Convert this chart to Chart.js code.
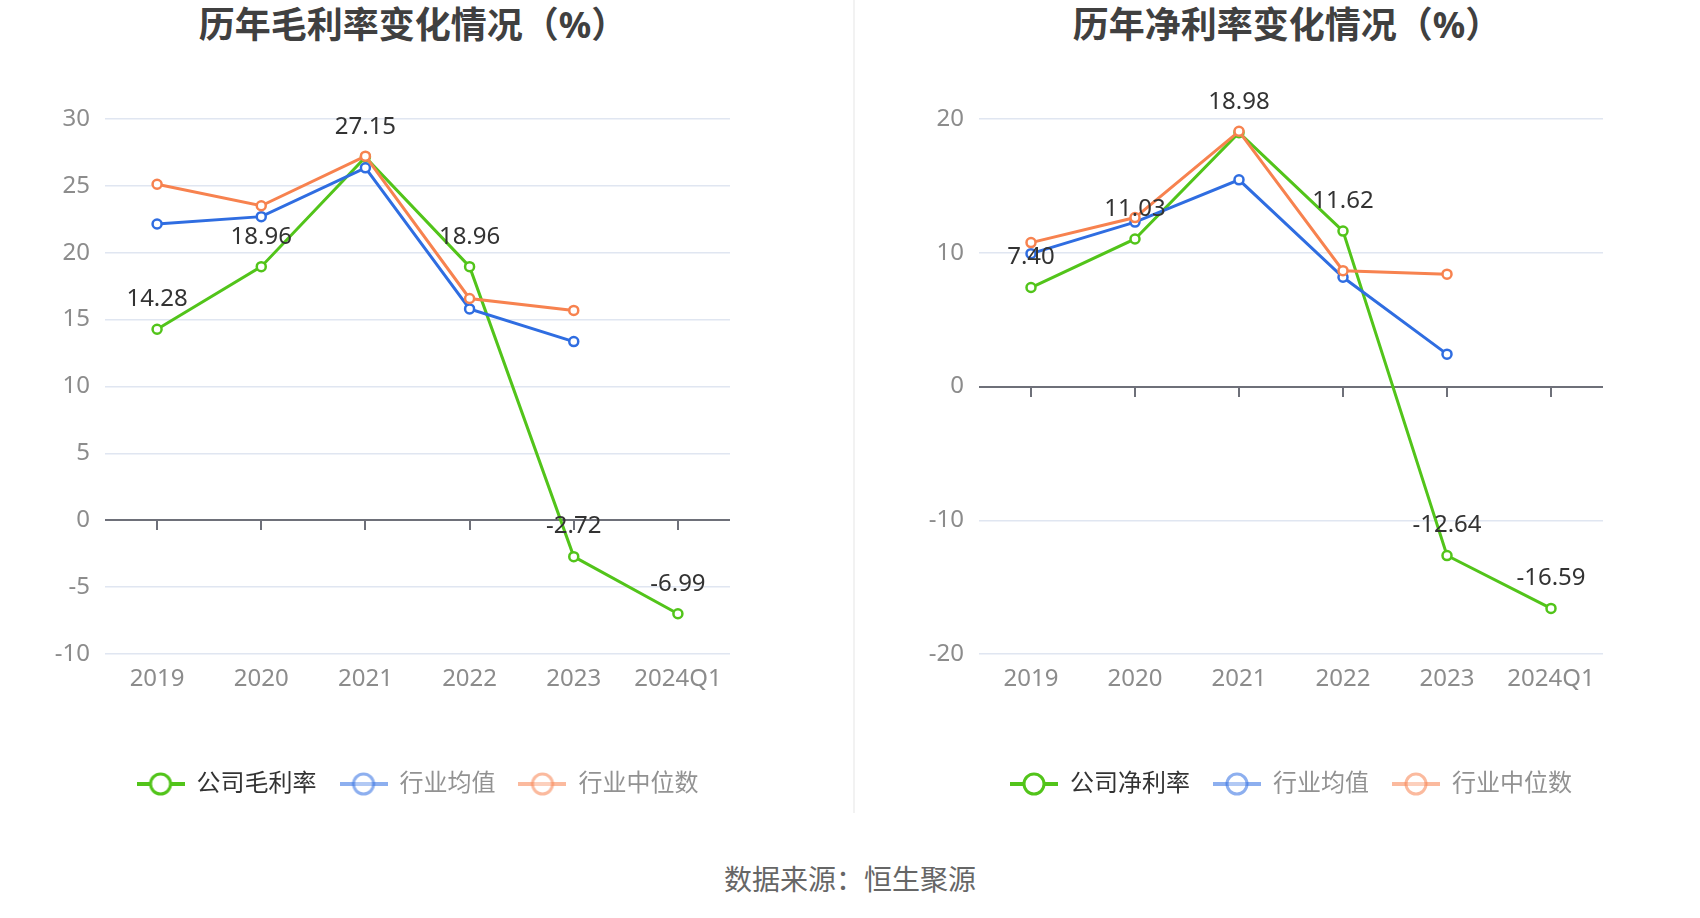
<!DOCTYPE html>
<html>
<head>
<meta charset="utf-8">
<script src="https://cdn.jsdelivr.net/npm/chart.js@4.4.1/dist/chart.umd.min.js"></script>
<style>
  body { margin: 0; background: #fff; width: 1700px; height: 918px; position: relative; overflow: hidden;
         font-family: 'Noto Sans', 'Noto Sans CJK SC', sans-serif; }
  .title { position: absolute; top: 0; width: 600px; text-align: center; font-size: 36px; font-weight: bold;
           color: #404040; line-height: 50px; }
  .panel { position: absolute; top: 0; }
  .sep { position: absolute; left: 853px; top: 0; width: 2px; height: 813px; background: #f2f2f2; }
  .source { position: absolute; left: 550px; width: 600px; top: 859px; text-align: center; font-size: 28px;
            color: #666; line-height: 40px; }
</style>
</head>
<body>
<div class="title" style="left:113px">历年毛利率变化情况（%）</div>
<div class="title" style="left:987px">历年净利率变化情况（%）</div>
<div class="sep"></div>
<div class="panel" style="left:0"><canvas id="grossChart" width="750" height="806"></canvas></div>
<div class="panel" style="left:874px"><canvas id="netChart" width="749" height="806"></canvas></div>
<div class="source">数据来源：恒生聚源</div>
<script>
// 数据
const years = ['2019', '2020', '2021', '2022', '2023', '2024Q1'];

const grossCompany = [14.28, 18.96, 27.15, 18.96, -2.72, -6.99];
const grossIndustryAvg = [22.15, 22.70, 26.35, 15.80, 13.36, null];
const grossIndustryMedian = [25.12, 23.51, 27.22, 16.58, 15.69, null];
const grossTicks = [-10, -5, 0, 5, 10, 15, 20, 25, 30];

const netCompany = [7.40, 11.03, 18.98, 11.62, -12.64, -16.59];
const netIndustryAvg = [9.93, 12.29, 15.45, 8.17, 2.42, null];
const netIndustryMedian = [10.76, 12.63, 19.08, 8.66, 8.40, null];
const netTicks = [-20, -10, 0, 10, 20];

const GREEN = '#52C41A';
const BLUE = '#2F6DE1';
const ORANGE = '#F7824F';

Chart.defaults.font.family = "'Noto Sans', 'Noto Sans CJK SC', sans-serif";

// icône de légende : trait + cercle
function legendIcon(color, faded) {
    const c = document.createElement('canvas');
    c.width = 48;
    c.height = 26;
    const g = c.getContext('2d');
    g.globalAlpha = faded ? 0.55 : 1;
    g.strokeStyle = color;
    g.lineWidth = 4;
    g.beginPath();
    g.moveTo(0, 13);
    g.lineTo(48, 13);
    g.stroke();
    g.beginPath();
    g.arc(24, 13, 10, 0, Math.PI * 2);
    g.fillStyle = faded ? 'rgba(255,255,255,0.6)' : '#fff';
    g.fill();
    g.lineWidth = 3;
    g.stroke();
    return c;
}

// ligne du zéro + graduations
const zeroAxis = {
    id: 'zeroAxis',
    beforeDatasetsDraw(chart) {
        const { ctx, chartArea, scales } = chart;
        const y0 = Math.round(scales.y.getPixelForValue(0));
        ctx.save();
        ctx.strokeStyle = '#6E7079';
        ctx.lineWidth = 2;
        ctx.beginPath();
        ctx.moveTo(chartArea.left, y0);
        ctx.lineTo(chartArea.right, y0);
        ctx.stroke();
        scales.x.ticks.forEach((t, i) => {
            const px = Math.round(scales.x.getPixelForTick(i));
            ctx.beginPath();
            ctx.moveTo(px, y0);
            ctx.lineTo(px, y0 + 10);
            ctx.stroke();
        });
        ctx.restore();
    }
};

// étiquettes de valeur sur la série de l'entreprise
const valueLabels = {
    id: 'valueLabels',
    afterDatasetsDraw(chart) {
        const { ctx } = chart;
        const meta = chart.getDatasetMeta(0);
        const values = chart.data.datasets[0].data;
        ctx.save();
        ctx.font = "24px 'Noto Sans', sans-serif";
        ctx.fillStyle = '#333';
        ctx.textAlign = 'center';
        ctx.textBaseline = 'middle';
        meta.data.forEach((pt, i) => {
            if (values[i] === null) return;
            ctx.fillText(values[i].toFixed(2), pt.x, pt.y - 30);
        });
        ctx.restore();
    }
};

function makeChart(id, companyLabel, company, avg, median, tickVals) {
    const series = [
        { label: companyLabel, data: company, color: GREEN, order: 3, faded: false, text: '#333' },
        { label: '行业均值', data: avg, color: BLUE, order: 2, faded: true, text: '#929292' },
        { label: '行业中位数', data: median, color: ORANGE, order: 1, faded: true, text: '#929292' }
    ];
    return new Chart(document.getElementById(id), {
        type: 'line',
        data: {
            labels: years,
            datasets: series.map(s => ({
                label: s.label,
                data: s.data,
                order: s.order,
                borderColor: s.color,
                backgroundColor: s.color,
                borderWidth: 3,
                tension: 0,
                pointRadius: 4.5,
                pointBorderWidth: 2.5,
                pointBackgroundColor: '#fff',
                pointBorderColor: s.color
            }))
        },
        options: {
            responsive: false,
            animation: false,
            layout: { padding: { top: 119, right: 20, left: 0, bottom: 0 } },
            plugins: {
                tooltip: { enabled: false },
                legend: {
                    position: 'bottom',
                    fullSize: false,
                    labels: {
                        usePointStyle: true,
                        pointStyleWidth: 48,
                        padding: 23,
                        font: { size: 24 },
                        generateLabels: () => series.map((s, i) => ({
                            text: s.label,
                            fontColor: s.text,
                            pointStyle: legendIcon(s.color, s.faded),
                            datasetIndex: i,
                            lineWidth: 0,
                            hidden: false
                        }))
                    }
                }
            },
            scales: {
                x: {
                    offset: true,
                    grid: { display: false, drawTicks: false },
                    border: { display: false },
                    ticks: { color: '#8c8c8c', font: { size: 24 }, padding: 11 },
                    afterFit: scale => { scale.height = 95; }
                },
                y: {
                    min: tickVals[0],
                    max: tickVals[tickVals.length - 1],
                    afterBuildTicks: scale => { scale.ticks = tickVals.map(v => ({ value: v })); },
                    afterFit: scale => { scale.width = 105; },
                    grid: {
                        drawTicks: false,
                        color: c => (c.tick && c.tick.value === 0 ? 'rgba(0,0,0,0)' : '#E0E6F1'),
                        lineWidth: 1.5
                    },
                    border: { display: false },
                    ticks: { color: '#8c8c8c', font: { size: 24 }, padding: 15 }
                }
            }
        },
        plugins: [zeroAxis, valueLabels]
    });
}

makeChart('grossChart', '公司毛利率', grossCompany, grossIndustryAvg, grossIndustryMedian, grossTicks);
makeChart('netChart', '公司净利率', netCompany, netIndustryAvg, netIndustryMedian, netTicks);
</script>
</body>
</html>
